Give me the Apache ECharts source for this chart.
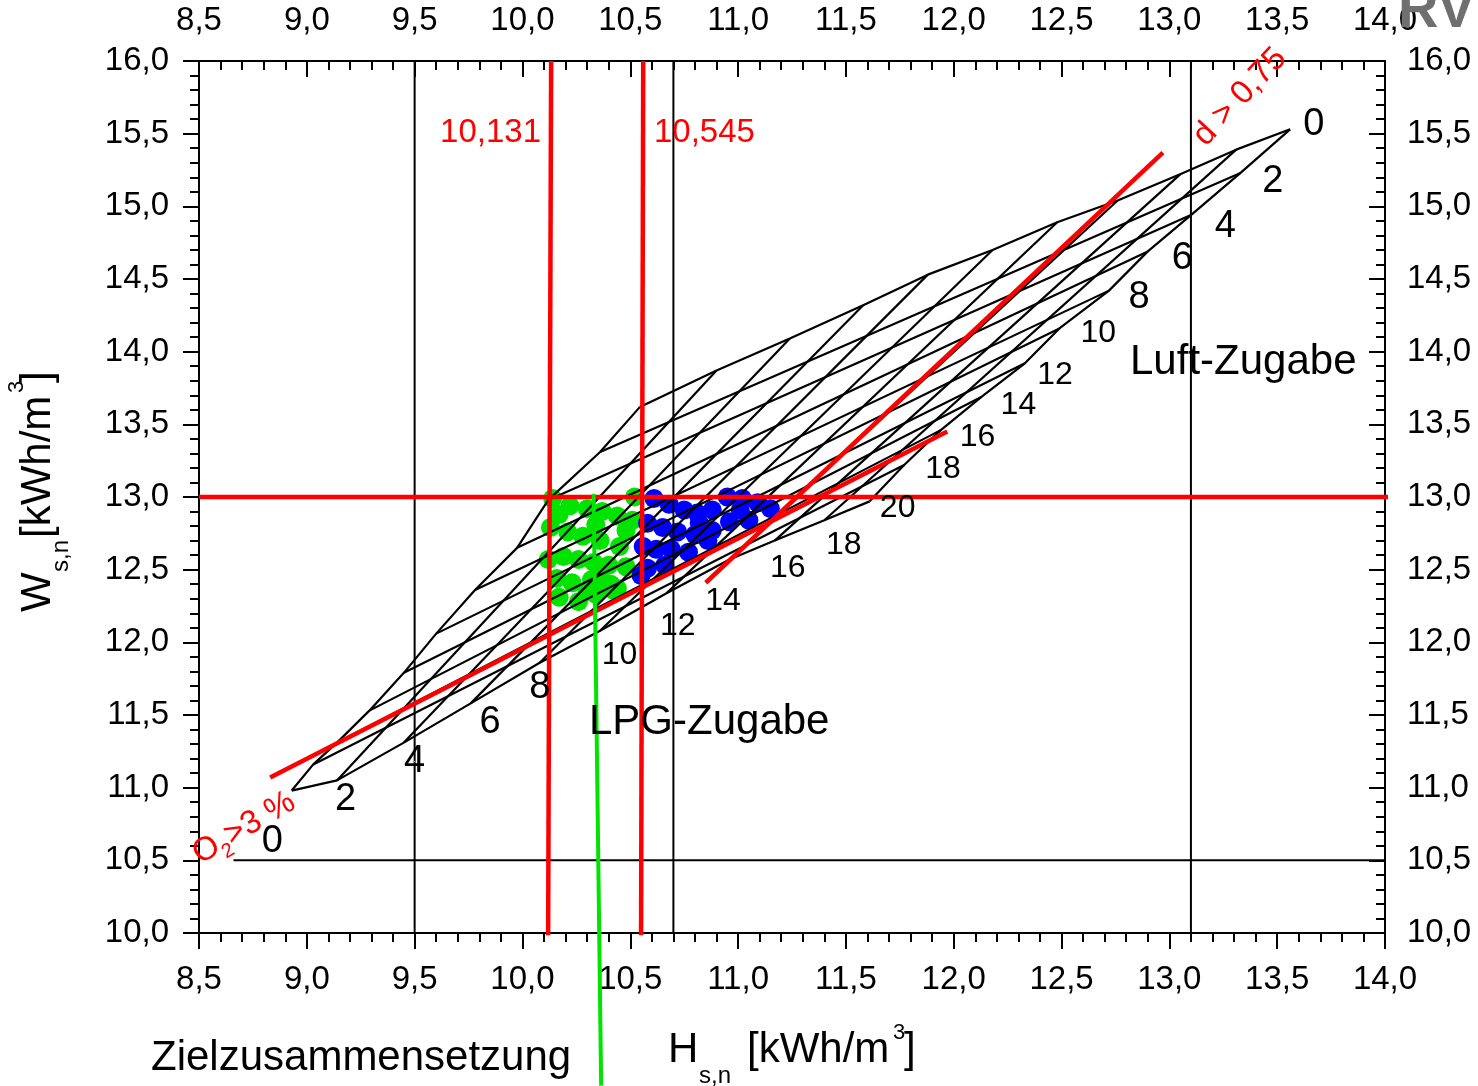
<!DOCTYPE html>
<html>
<head>
<meta charset="utf-8">
<title>Ws,n - Hs,n</title>
<script src="https://cdn.jsdelivr.net/npm/echarts@6/dist/echarts.min.js"></script>
<style>
  html, body { margin: 0; padding: 0; background: #fff; }
  #chart { width: 1478px; height: 1086px; }
</style>
</head>
<body>
<div id="chart"></div>
<script>
// addition steps in % (LPG and air)
var steps = [0, 2, 4, 6, 8, 10, 12, 14, 16, 18, 20];

// mesh border, [Hs,n] and [Ws,n] per step
// air = 0 (upper border), LPG 0..20
var topH = [10.545, 10.90, 11.24, 11.58, 11.88, 12.18, 12.48, 12.76, 13.05, 13.31, 13.56];
var topW = [13.62, 13.87, 14.09, 14.32, 14.53, 14.70, 14.89, 15.04, 15.22, 15.39, 15.53];
// air = 20 (lower border), LPG 0..20
var bottomH = [8.93, 9.14, 9.45, 9.76, 10.08, 10.36, 10.67, 10.96, 11.17, 11.40, 11.61];
var bottomW = [10.98, 11.05, 11.31, 11.58, 11.86, 12.08, 12.34, 12.57, 12.70, 12.84, 12.97];
// LPG = 0 (left border), air 0..20
var leftH = [10.545, 10.36, 10.12, 9.975, 9.78, 9.60, 9.45, 9.29, 9.14, 9.03, 8.93];
var leftW = [13.62, 13.31, 12.98, 12.65, 12.36, 12.06, 11.79, 11.53, 11.31, 11.16, 10.98];
// LPG = 20 (right border), air 0..20
var rightH = [13.56, 13.33, 13.10, 12.90, 12.72, 12.49, 12.33, 12.13, 11.94, 11.77, 11.61];
var rightW = [15.53, 15.23, 14.94, 14.69, 14.42, 14.16, 13.92, 13.69, 13.46, 13.22, 12.97];

// where the step numbers are written
var lpgLabelH = [8.84, 9.18, 9.50, 9.85, 10.08, 10.45, 10.72, 10.93, 11.23, 11.49, 11.74];
var lpgLabelW = [10.63, 10.92, 11.18, 11.45, 11.69, 11.91, 12.11, 12.28, 12.51, 12.67, 12.92];
var airLabelH = [13.67, 13.48, 13.26, 13.06, 12.86, 12.67, 12.47, 12.30, 12.11, 11.95];
var airLabelW = [15.56, 15.17, 14.86, 14.64, 14.37, 14.13, 13.84, 13.63, 13.41, 13.19];

// measured mixtures
var greenPoints = [
  [10.14, 12.99], [10.22, 12.94], [10.30, 12.92], [10.37, 12.90], [10.44, 12.87], [10.52, 13.00],
  [10.17, 12.88], [10.34, 12.81], [10.48, 12.77],
  [10.13, 12.79], [10.21, 12.76], [10.28, 12.73], [10.36, 12.70], [10.45, 12.66], [10.51, 12.84],
  [10.12, 12.57], [10.19, 12.59], [10.26, 12.57], [10.33, 12.55], [10.40, 12.53], [10.48, 12.52],
  [10.16, 12.44], [10.23, 12.41], [10.32, 12.43], [10.36, 12.44], [10.41, 12.40], [10.44, 12.37],
  [10.17, 12.31], [10.26, 12.28], [10.30, 12.35], [10.34, 12.33], [10.42, 12.36]
];
var bluePoints = [
  [10.61, 12.99], [10.68, 12.95], [10.75, 12.91], [10.81, 12.89], [10.88, 12.91], [10.95, 13.00],
  [11.01, 12.91], [11.02, 12.99], [11.09, 12.96], [11.15, 12.92],
  [10.58, 12.82], [10.65, 12.79], [10.72, 12.76], [10.80, 12.74], [10.82, 12.82], [10.88, 12.77],
  [10.96, 12.83], [11.05, 12.84],
  [10.56, 12.66], [10.62, 12.64], [10.69, 12.64], [10.77, 12.62], [10.86, 12.70],
  [10.66, 12.53], [10.58, 12.51], [10.55, 12.46]
];

// limits
var hLowLine = [[10.133, 16.0], [10.119, 9.97]];
var hHighLine = [[10.56, 16.0], [10.55, 9.97]];
var wLimitLine = [[8.5, 13.0], [14.02, 13.0]];
var o2Line = [[8.83, 11.07], [11.97, 13.45]];
var densityLine = [[10.85, 12.41], [12.97, 15.37]];
var targetLine = [[10.33, 13.02], [10.365, 8.95]];
var blackVLines = [9.5, 10.7, 13.1];
var blackHLine = [[8.66, 10.5], [14.0, 10.5]];

var FONT = '"Liberation Sans", Arial, sans-serif';
var RED = '#ff0000';
var GREEN = '#00e400';

function fmt(v) { return v.toFixed(1).replace('.', ','); }

function pairs(hs, ws) {
  return hs.map(function (h, i) { return [h, ws[i]]; });
}

function plainLine(data, color, width, z) {
  return {
    type: 'line', data: data, symbol: 'none', silent: true, animation: false,
    lineStyle: { color: color, width: width, opacity: 1 }, z: z
  };
}

var series = [];

series.push({
  type: 'scatter', data: greenPoints, symbolSize: 19, silent: true, animation: false,
  itemStyle: { color: GREEN, opacity: 1 }, z: 1
});
series.push({
  type: 'scatter', data: bluePoints, symbolSize: 19, silent: true, animation: false,
  itemStyle: { color: '#0000ff', opacity: 1 }, z: 1
});

// mesh: borders as polylines, inner lines from border to border
series.push(plainLine(pairs(topH, topW), '#000', 2.2, 3));
series.push(plainLine(pairs(bottomH, bottomW), '#000', 2.2, 3));
series.push(plainLine(pairs(leftH, leftW), '#000', 2.2, 3));
series.push(plainLine(pairs(rightH, rightW), '#000', 2.2, 3));
for (var i = 1; i < steps.length - 1; i++) {
  series.push(plainLine([[topH[i], topW[i]], [bottomH[i], bottomW[i]]], '#000', 2.2, 3));
  series.push(plainLine([[leftH[i], leftW[i]], [rightH[i], rightW[i]]], '#000', 2.2, 3));
}

blackVLines.forEach(function (h) {
  series.push(plainLine([[h, 10], [h, 16]], '#000', 2, 3));
});
series.push(plainLine(blackHLine, '#000', 2, 3));

series.push(plainLine(hLowLine, RED, 4.5, 4));
series.push(plainLine(hHighLine, RED, 4.5, 4));
series.push(plainLine(wLimitLine, RED, 4.5, 4));
series.push(plainLine(o2Line, RED, 4.5, 4));
series.push(plainLine(densityLine, RED, 4.5, 4));
var tl = plainLine(targetLine, GREEN, 4, 4);
tl.clip = false;
series.push(tl);

function stepLabels(hs, ws) {
  return {
    type: 'scatter', silent: true, animation: false, symbolSize: 1, z: 5,
    itemStyle: { color: '#fff', opacity: 1 },
    data: hs.map(function (h, i) {
      return {
        value: [h, ws[i]],
        label: {
          show: true, position: 'inside', formatter: String(steps[i]), opacity: 1,
          color: '#000', textBorderWidth: 0, fontFamily: FONT,
          fontSize: steps[i] < 10 ? 38 : 32
        }
      };
    })
  };
}
series.push(stepLabels(lpgLabelH, lpgLabelW));
series.push(stepLabels(airLabelH, airLabelW));

function axisCfg(pos, inside, margin, min, max) {
  return {
    type: 'value', position: pos, min: min, max: max, interval: 0.5,
    axisLine: { show: true, onZero: false, lineStyle: { color: '#000', width: 2 } },
    axisTick: { show: true, inside: inside, length: 16, lineStyle: { color: '#000', width: 2 } },
    minorTick: { show: true, splitNumber: 5, length: 9, lineStyle: { color: '#000', width: 2 } },
    axisLabel: { color: '#000', fontSize: 33, fontFamily: FONT, margin: margin, formatter: fmt },
    splitLine: { show: false }, minorSplitLine: { show: false }
  };
}

function txt(x, y, text, size, color, align, rot) {
  return {
    type: 'text', x: x, y: y, rotation: rot || 0, silent: true, z: 10,
    style: {
      text: text, fill: color || '#000', fontSize: size, fontFamily: FONT,
      align: align || 'left', textAlign: align || 'left',
      verticalAlign: 'middle', textVerticalAlign: 'middle'
    }
  };
}

var graphics = [
  txt(541, 133, '10,131', 33, RED, 'right'),
  txt(654, 133, '10,545', 33, RED, 'left'),
  txt(1130, 362, 'Luft-Zugabe', 42),
  txt(589, 722, 'LPG-Zugabe', 42),
  txt(151, 1058, 'Zielzusammensetzung', 42),
  // x axis title
  txt(668, 1050, 'H', 42),
  txt(699, 1076, 's,n', 24),
  txt(747, 1050, '[kWh/m', 42),
  txt(893, 1033, '3', 22),
  txt(904, 1050, ']', 42),
  // y axis title (rotated)
  txt(38, 612, 'W', 42, '#000', 'left', Math.PI / 2),
  txt(61, 572, 's,n', 24, '#000', 'left', Math.PI / 2),
  txt(38, 538, '[kWh/m', 42, '#000', 'left', Math.PI / 2),
  txt(17, 393, '3', 22, '#000', 'left', Math.PI / 2),
  txt(38, 383, ']', 42, '#000', 'left', Math.PI / 2),
  // limits
  txt(1240, 97, 'd > 0,75', 33, RED, 'center', 0.82),
  {
    type: 'text', x: 244, y: 828, rotation: 0.53, silent: true, z: 10,
    style: {
      text: '{a|O}{s|2}{a|>3 %}', fill: RED, fontFamily: FONT,
      align: 'center', textAlign: 'center', verticalAlign: 'middle', textVerticalAlign: 'middle',
      rich: {
        a: { fontSize: 33, fill: RED, color: RED, fontFamily: FONT, lineHeight: 44, verticalAlign: 'middle' },
        s: { fontSize: 20, fill: RED, color: RED, fontFamily: FONT, lineHeight: 44, verticalAlign: 'bottom' }
      }
    }
  },
  // logo remains in the corner
  {
    type: 'text', x: 1398, y: 40, silent: true, z: 10,
    style: {
      text: 'RV', fill: '#6f6f6f', fontSize: 56, fontWeight: 'bold', fontFamily: FONT,
      align: 'left', textAlign: 'left', verticalAlign: 'bottom', textVerticalAlign: 'bottom'
    }
  }
];

var chart = echarts.init(document.getElementById('chart'));
chart.setOption({
  animation: false,
  backgroundColor: '#fff',
  grid: { left: 199, right: 93, top: 61, bottom: 153, containLabel: false },
  xAxis: [axisCfg('bottom', false, 30, 8.5, 14.0), axisCfg('top', true, 24, 8.5, 14.0)],
  yAxis: [axisCfg('left', false, 30, 10.0, 16.0), axisCfg('right', true, 22, 10.0, 16.0)],
  series: series,
  graphic: graphics
});
</script>
</body>
</html>
